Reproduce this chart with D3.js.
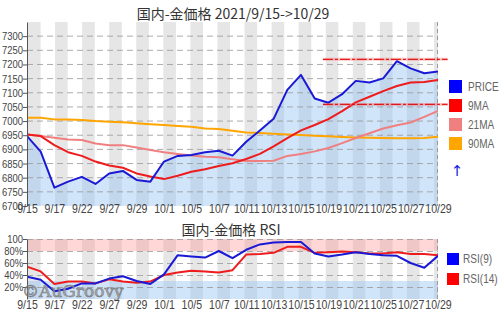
<!DOCTYPE html>
<html><head><meta charset="utf-8">
<script src="https://cdn.jsdelivr.net/npm/d3@7/dist/d3.min.js"></script>
<style>
body{margin:0;background:#fff;}
svg{display:block;}
.nar{font-family:"Liberation Sans",Arial,sans-serif;}
</style></head><body>
<script>
const dates = ["9/15","9/16","9/17","9/21","9/22","9/24","9/27","9/28","9/29","9/30","10/1","10/4","10/5","10/6","10/7","10/8","10/11","10/12","10/13","10/14","10/15","10/18","10/19","10/20","10/21","10/22","10/25","10/26","10/27","10/28","10/29"];
const price = [6947,6892,6765,6786,6803,6778,6815,6824,6792,6786,6857,6877,6880,6890,6895,6878,6927,6967,7008,7110,7163,7080,7065,7095,7142,7136,7151,7212,7186,7169,7175];
const ma9 = [6953,6947,6915,6890,6877,6857,6843,6835,6815,6804,6795,6807,6821,6830,6841,6851,6866,6884,6911,6940,6967,6986,7007,7035,7066,7086,7106,7124,7136,7138,7145];
const ma21 = [6953,6947,6941,6935,6933,6921,6915,6915,6907,6898,6890,6884,6878,6874,6872,6865,6859,6859,6860,6877,6884,6893,6905,6922,6940,6957,6974,6985,6995,7015,7036];
const ma90 = [7012,7012,7006,7006,7004,7000,6998,6996,6992,6989,6986,6983,6980,6974,6972,6966,6960,6958,6955,6953,6951,6948,6946,6944,6942,6941,6940,6939,6939,6940,6945];
const rsi9 = [37,32,13,17,26,26,34,38,30,25,41,73,71,69,80,68,82,91,94,95,95,76,71,74,78,75,73,72,60,52,72];
const rsi14 = [54,46,25,29,29,26,33,29,27,29,40,44,47,46,44,48,74,75,77,87,87,77,78,79,78,76,76,78,75,75,73];
const priceTicks = [6700,6750,6800,6850,6900,6950,7000,7050,7100,7150,7200,7250,7300];
const rsiTicks = [20,40,60,80,100];
const rsiTickLabels = ["20%","40%","60%","80%","100"];
const levels = [7218,7059];
const levelSpan = [21.6,30.7];
const rsiBands = [[80,100,"hi"],[0,30,"lo"]];
const legendMain = [["PRICE","#0000ff"],["9MA","#ff0000"],["21MA","#f08080"],["90MA","#ffa500"]];
const legendRsi = [["RSI(9)","#0000ff"],["RSI(14)","#ff0000"]];
const stripeCount = 16;

const W=500,H=310, L=27, R=438;
const NARROW="scale(0.86,1)";
const svg=d3.select("body").append("svg").attr("width",W).attr("height",H);

const x=d3.scalePoint().domain(d3.range(dates.length)).range([L,R]);
const xi=d3.scaleLinear().domain([0,dates.length-1]).range([L,R]);
const stripeX=d3.scaleLinear().domain([0,15]).range([28,434]);
const y=d3.scaleLinear().domain([6700,7350]).range([206,22]);
const yr=d3.scaleLinear().domain([0,100]).range([299,239]);

svg.append("defs").selectAll("clipPath").data([["c1",y],["c2",yr]]).join("clipPath").attr("id",d=>d[0])
  .append("rect").attr("x",L).attr("width",R-L).attr("y",d=>d[1].range()[1]).attr("height",d=>d[1].range()[0]-d[1].range()[1]);

function stripes(g,ys){
  g.selectAll("rect.st").data(d3.range(stripeCount)).join("rect").attr("class","st")
   .attr("x",k=>stripeX(k)).attr("width",12.6).attr("y",ys.range()[1]).attr("height",ys.range()[0]-ys.range()[1])
   .attr("fill","#e6e6e6");
}
function styleAxis(ax,fs){
  ax.select(".domain").attr("stroke","#555");
  ax.selectAll(".tick line").attr("stroke","#555");
  ax.selectAll("text").attr("class","nar").attr("font-size",fs).attr("fill","#444").attr("transform",NARROW);
}
// ---- main panel
const g1=svg.append("g").attr("clip-path","url(#c1)");
stripes(g1,y);
g1.append("path").datum(price).attr("fill","rgba(150,195,245,0.45)")
  .attr("d",d3.area().x((d,i)=>x(i)).y0(y(6700)).y1(d=>y(d)));
g1.selectAll("line.gr").data(priceTicks.slice(1)).join("line").attr("class","gr")
  .attr("x1",L).attr("x2",R).attr("y1",d=>y(d)).attr("y2",d=>y(d))
  .attr("stroke","#999").attr("stroke-dasharray","6,4").attr("stroke-width",1).attr("opacity",0.8);
g1.append("line").attr("x1",R-0.5).attr("x2",R-0.5).attr("y1",y.range()[1]).attr("y2",y.range()[0])
  .attr("stroke","#999").attr("stroke-dasharray","4,3");
const line=d3.line().x((d,i)=>x(i)).y(d=>y(d));
[[ma90,"#ffa500"],[ma21,"#f08080"],[ma9,"#ee1c1c"],[price,"#1a1ad6"]].forEach(([d,c])=>{
  g1.append("path").datum(d).attr("fill","none").attr("stroke",c).attr("stroke-width",2).attr("stroke-linejoin","round").attr("d",line);
});
// levels (extend past plot)
const gl=svg.append("g");
levels.forEach(v=>{
  gl.append("line").attr("x1",xi(levelSpan[0])).attr("x2",xi(levelSpan[1])).attr("y1",y(v)).attr("y2",y(v))
    .attr("stroke","#ff6060").attr("stroke-width",3).attr("opacity",0.35);
  gl.append("line").attr("x1",xi(levelSpan[0])).attr("x2",xi(levelSpan[1])).attr("y1",y(v)).attr("y2",y(v))
    .attr("stroke","#e00000").attr("stroke-width",1.2).attr("stroke-dasharray","10,2,3,2").attr("opacity",0.85);
});
// axes
const ax1=svg.append("g").attr("transform",`translate(${L},0)`).call(d3.axisLeft(y).tickValues(priceTicks).tickFormat(d3.format("d")).tickSize(4).tickSizeOuter(0));
styleAxis(ax1,11);
ax1.selectAll("text").attr("x",-4.5);
const xa1=svg.append("g").attr("transform",`translate(0,${y(6700)})`).call(d3.axisBottom(x).tickValues(d3.range(0,dates.length,2)).tickFormat(i=>dates[i]).tickSize(0));
xa1.select(".domain").remove();
styleAxis(xa1,12);
xa1.selectAll("text").attr("dy","0.3em").attr("transform","scale(0.88,1)");
svg.append("text").attr("x",233).attr("y",19).attr("text-anchor","middle").attr("font-family","'Noto Sans CJK JP',sans-serif")
  .attr("font-size",14).attr("fill","#333").text("国内-金価格 2021/9/15->10/29");
// legend main
const lg=svg.append("g");
legendMain.forEach(([t,c],i)=>{
  lg.append("rect").attr("x",449).attr("y",80+i*19).attr("width",13).attr("height",13).attr("fill",c);
  lg.append("g").attr("transform",`translate(468,${86.5+i*19})`).append("text").attr("class","nar")
    .attr("dy","0.35em").attr("font-size",12).attr("fill","#666").attr("transform","scale(0.84,1)").text(t);
});
lg.append("text").attr("x",457).attr("y",171).attr("dy","0.35em").attr("text-anchor","middle").attr("font-family","DejaVu Sans").attr("font-size",15).attr("fill","#1a1ad6").text("↑");

// ---- RSI panel
const g2=svg.append("g").attr("clip-path","url(#c2)");
stripes(g2,yr);
g2.selectAll("rect.band").data(rsiBands).join("rect").attr("class","band")
  .attr("x",L).attr("width",R-L).attr("y",d=>yr(d[1])).attr("height",d=>yr(d[0])-yr(d[1]))
  .attr("fill",d=>d[2]=="hi"?"rgba(255,140,140,0.35)":"rgba(150,195,245,0.45)");
g2.selectAll("line.gr").data(rsiTicks).join("line").attr("class","gr")
  .attr("x1",L).attr("x2",R).attr("y1",d=>yr(d)+0.5).attr("y2",d=>yr(d)+0.5)
  .attr("stroke","#999").attr("stroke-dasharray","6,4").attr("opacity",0.8);
g2.append("line").attr("x1",R-0.5).attr("x2",R-0.5).attr("y1",yr.range()[1]).attr("y2",yr.range()[0])
  .attr("stroke","#999").attr("stroke-dasharray","4,3");
const lineR=d3.line().x((d,i)=>x(i)).y(d=>yr(d));
[[rsi14,"#ee1c1c"],[rsi9,"#1a1ad6"]].forEach(([d,c])=>{
  g2.append("path").datum(d).attr("fill","none").attr("stroke",c).attr("stroke-width",2).attr("stroke-linejoin","round").attr("d",lineR);
});
const ax2=svg.append("g").attr("transform",`translate(${L},0)`).call(d3.axisLeft(yr).tickValues(rsiTicks).tickFormat((d,i)=>rsiTickLabels[i]).tickSize(4).tickSizeOuter(0));
styleAxis(ax2,11);
ax2.selectAll("text").attr("x",-4.5);
svg.append("text").attr("x",22).attr("y",297).attr("font-family","'DejaVu Serif','Liberation Serif',serif").attr("font-size",17)
  .attr("fill","#a0a0a0").attr("stroke","#707070").attr("stroke-width",0.6).attr("opacity",0.85).text("©AuGroovy");
const xa2=svg.append("g").attr("transform",`translate(0,${yr(0)})`).call(d3.axisBottom(x).tickValues(d3.range(0,dates.length,2)).tickFormat(i=>dates[i]).tickSize(0));
xa2.select(".domain").remove();
styleAxis(xa2,12);
xa2.selectAll("text").attr("y",1).attr("dy","0.71em").attr("transform","scale(0.88,1)");
svg.append("text").attr("x",231).attr("y",235).attr("text-anchor","middle").attr("font-family","'Noto Sans CJK JP',sans-serif")
  .attr("font-size",14).attr("fill","#333").text("国内-金価格 RSI");
const lr=svg.append("g");
legendRsi.forEach(([t,c],i)=>{
  lr.append("rect").attr("x",447).attr("y",253+i*20).attr("width",12).attr("height",12).attr("fill",c);
  lr.append("g").attr("transform",`translate(463,${259+i*20})`).append("text").attr("class","nar")
    .attr("dy","0.35em").attr("font-size",12).attr("fill","#666").attr("transform","scale(0.84,1)").text(t);
});
</script>
</body></html>
